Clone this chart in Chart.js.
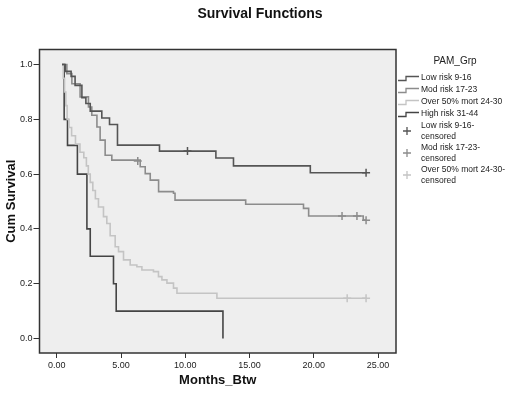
<!DOCTYPE html>
<html>
<head>
<meta charset="utf-8">
<script src="https://cdn.jsdelivr.net/npm/chart.js@4"></script>
<style>
  html, body { margin: 0; padding: 0; background: #fff; }
  #wrap { width: 520px; height: 397px; }
</style>
</head>
<body>
<div id="wrap"><canvas id="chart" width="520" height="397"></canvas></div>
<script>
// Kaplan-Meier step curves (months, cum survival)
const groupNames = ['Low risk 9-16', 'Mod risk 17-23', 'Over 50% mort 24-30', 'High risk 31-44'];
const groupColors = ['#555555', '#8c8c8c', '#c4c4c4', '#444444'];

const lowT = [0.4, 0.65, 1.11, 1.42, 1.95, 2.26, 2.6, 3.5, 4.1, 4.72, 7.99, 12.38, 13.75, 19.73, 24.07];
const lowS = [1.0, 0.975, 0.957, 0.924, 0.879, 0.858, 0.83, 0.805, 0.781, 0.706, 0.684, 0.659, 0.63, 0.605, 0.605];

const modT = [0.4, 0.78, 1.17, 1.81, 2.46, 2.72, 3.12, 3.37, 3.76, 4.28, 6.49, 6.88, 7.27, 7.92, 9.08, 9.2, 14.7, 19.2, 19.6, 23.85, 24.07];
const modS = [1.0, 0.967, 0.93, 0.882, 0.845, 0.815, 0.772, 0.724, 0.669, 0.651, 0.627, 0.602, 0.578, 0.536, 0.53, 0.505, 0.49, 0.475, 0.447, 0.432, 0.432];

const overT = [0.4, 0.5, 0.6, 0.7, 0.8, 0.95, 1.15, 1.45, 1.8, 2.1, 2.3, 2.45, 2.6, 2.8, 3.0, 3.24, 3.63, 3.89, 4.15, 4.54, 4.8, 5.19, 5.71, 6.23, 6.62, 7.52, 7.91, 8.18, 8.57, 9.08, 9.35, 12.46, 24.07];
const overS = [1.0, 0.95, 0.9, 0.85, 0.8, 0.77, 0.74, 0.71, 0.68, 0.66, 0.63, 0.6, 0.57, 0.54, 0.51, 0.48, 0.445, 0.42, 0.375, 0.335, 0.317, 0.287, 0.268, 0.262, 0.25, 0.244, 0.226, 0.214, 0.202, 0.184, 0.165, 0.147, 0.147];

const highT = [0.4, 0.57, 0.83, 1.6, 2.34, 2.6, 4.41, 4.62, 12.93];
const highS = [1.0, 0.8, 0.705, 0.6, 0.4, 0.3, 0.2, 0.1, 0.0];

// censored cases
const lowCensT = [10.17, 24.07];
const lowCensS = [0.684, 0.605];
const modCensT = [6.3, 22.2, 23.36, 24.07];
const modCensS = [0.648, 0.447, 0.447, 0.432];
const overCensT = [22.6, 24.07];
const overCensS = [0.147, 0.147];

const xTicks = [0, 5, 10, 15, 20, 25];
const yTicks = [0, 0.2, 0.4, 0.6, 0.8, 1.0];

const FONT = '"Liberation Sans", Arial, sans-serif';

function pts(t, s) {
    return t.map((v, i) => ({x: v, y: s[i]}));
}

function stepSet(label, t, s, color) {
    return {
        label: label,
        data: pts(t, s),
        stepped: true,
        borderColor: color,
        borderWidth: 1.6,
        pointRadius: 0,
        fill: false,
        tension: 0
    };
}

function censSet(label, t, s, color) {
    return {
        label: label,
        type: 'scatter',
        data: pts(t, s),
        showLine: false,
        pointStyle: 'cross',
        pointRadius: 4,
        borderColor: color,
        borderWidth: 1.5
    };
}

// plot background + box frame + page title
const frame = {
    id: 'frame',
    beforeDatasetsDraw(chart) {
        const a = chart.chartArea, ctx = chart.ctx;
        ctx.save();
        ctx.fillStyle = '#eeeeee';
        ctx.fillRect(a.left, a.top, a.right - a.left, a.bottom - a.top);
        ctx.restore();
    },
    afterDraw(chart) {
        const a = chart.chartArea, ctx = chart.ctx;
        ctx.save();
        ctx.strokeStyle = '#333';
        ctx.lineWidth = 1.5;
        ctx.strokeRect(a.left, a.top, a.right - a.left, a.bottom - a.top);
        ctx.fillStyle = '#111';
        ctx.font = 'bold 14px ' + FONT;
        ctx.textAlign = 'center';
        ctx.textBaseline = 'middle';
        ctx.fillText('Survival Functions', 260, 14);
        ctx.restore();
    }
};

// SPSS style legend on the right
const kmLegend = {
    id: 'kmLegend',
    afterDraw(chart) {
        const ctx = chart.ctx;
        ctx.save();
        ctx.fillStyle = '#222';
        ctx.textBaseline = 'middle';
        ctx.textAlign = 'center';
        ctx.font = '10px ' + FONT;
        ctx.fillText('PAM_Grp', 455, 61);

        ctx.textAlign = 'left';
        ctx.font = '8.5px ' + FONT;
        groupNames.forEach((name, i) => {
            const y = 78 + i * 12;
            ctx.strokeStyle = groupColors[i];
            ctx.lineWidth = 1.3;
            ctx.beginPath();
            ctx.moveTo(398, y + 2.5);
            ctx.lineTo(406, y + 2.5);
            ctx.lineTo(406, y - 1.5);
            ctx.lineTo(419, y - 1.5);
            ctx.stroke();
            ctx.fillText(name, 421, y);
        });

        for (let i = 0; i < 3; i++) {
            const y = 131 + i * 22;
            ctx.strokeStyle = groupColors[i];
            ctx.lineWidth = 1.3;
            ctx.beginPath();
            ctx.moveTo(403, y); ctx.lineTo(411, y);
            ctx.moveTo(407, y - 4); ctx.lineTo(407, y + 4);
            ctx.stroke();
            ctx.fillText(groupNames[i] + '-', 421, y - 5);
            ctx.fillText('censored', 421, y + 5.5);
        }
        ctx.restore();
    }
};

const chart = new Chart(document.getElementById('chart'), {
    type: 'line',
    data: {
        datasets: [
            stepSet(groupNames[0], lowT, lowS, groupColors[0]),
            stepSet(groupNames[1], modT, modS, groupColors[1]),
            stepSet(groupNames[2], overT, overS, groupColors[2]),
            stepSet(groupNames[3], highT, highS, groupColors[3]),
            censSet(groupNames[0] + '-censored', lowCensT, lowCensS, groupColors[0]),
            censSet(groupNames[1] + '-censored', modCensT, modCensS, groupColors[1]),
            censSet(groupNames[2] + '-censored', overCensT, overCensS, groupColors[2])
        ]
    },
    options: {
        responsive: false,
        animation: false,
        layout: {padding: {left: 0, right: 124, top: 49.5, bottom: 0}},
        plugins: {
            legend: {display: false},
            tooltip: {enabled: false},
            title: {display: false}
        },
        scales: {
            x: {
                type: 'linear',
                min: -1.35,
                max: 26.4,
                afterBuildTicks: (s) => { s.ticks = xTicks.map(v => ({value: v})); },
                afterFit: (s) => { s.height = 44; },
                grid: {drawOnChartArea: false, drawTicks: true, tickLength: 5, color: '#333'},
                border: {display: false},
                ticks: {
                    color: '#222',
                    padding: 2,
                    font: {family: FONT, size: 9},
                    callback: (v) => Number(v).toFixed(2)
                },
                title: {
                    display: true,
                    text: 'Months_Btw',
                    color: '#111',
                    font: {family: FONT, size: 13, weight: 'bold'},
                    padding: {top: 2, bottom: 9}
                }
            },
            y: {
                type: 'linear',
                min: -0.053,
                max: 1.055,
                afterBuildTicks: (s) => { s.ticks = yTicks.map(v => ({value: v})); },
                afterFit: (s) => { s.width = 39.5; },
                grid: {drawOnChartArea: false, drawTicks: true, tickLength: 6, color: '#333'},
                border: {display: false},
                ticks: {
                    color: '#222',
                    padding: 1,
                    font: {family: FONT, size: 9},
                    callback: (v) => Number(v).toFixed(1)
                },
                title: {
                    display: true,
                    text: 'Cum Survival',
                    color: '#111',
                    font: {family: FONT, size: 13, weight: 'bold'},
                    padding: {top: 4, bottom: 2}
                }
            }
        }
    },
    plugins: [frame, kmLegend]
});
</script>
</body>
</html>
